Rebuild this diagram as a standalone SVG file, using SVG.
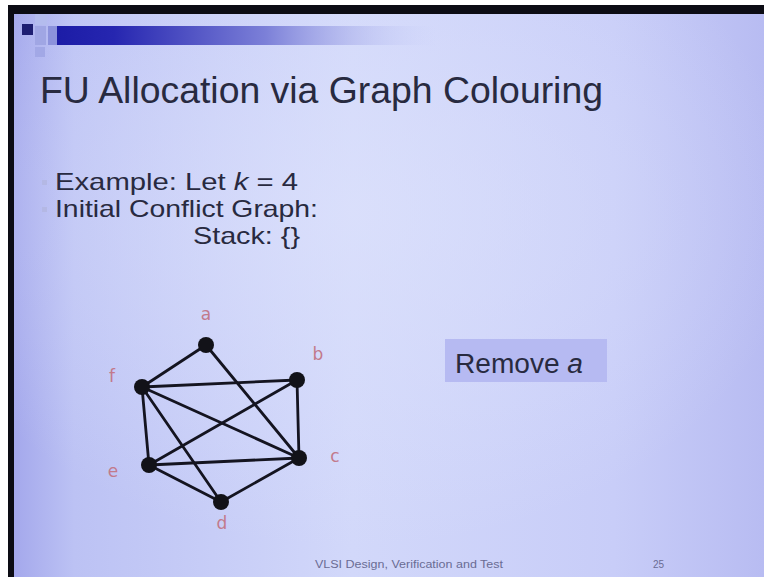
<svg xmlns="http://www.w3.org/2000/svg" width="764" height="577" viewBox="0 0 764 577">
  <defs>
    <linearGradient id="slideBg" x1="0" y1="0" x2="1" y2="0">
      <stop offset="0" stop-color="#a4a8ec"/>
      <stop offset="0.08" stop-color="#bcc2f4"/>
      <stop offset="0.45" stop-color="#d2d8fa"/>
      <stop offset="0.8" stop-color="#c8cdf8"/>
      <stop offset="1" stop-color="#b8bcf2"/>
    </linearGradient>
    <radialGradient id="glow" cx="0.45" cy="0.35" r="0.6">
      <stop offset="0" stop-color="#dde2fc" stop-opacity="0.7"/>
      <stop offset="1" stop-color="#dde2fc" stop-opacity="0"/>
    </radialGradient>
    <linearGradient id="bar" x1="0" y1="0" x2="1" y2="0">
      <stop offset="0" stop-color="#1c1ca6"/>
      <stop offset="0.15" stop-color="#2626b0"/>
      <stop offset="0.55" stop-color="#7c80d8"/>
      <stop offset="1" stop-color="#c8cef8" stop-opacity="0"/>
    </linearGradient>
    <style>
      .txt { font-family: "Liberation Sans", Arial, sans-serif; fill: #282a40; }
      .title { font-size: 36px; }
      .body { font-size: 24px; }
      .callout-text { font-size: 27px; }
      .bullet { fill: #b4b8e4; }
      .edge { stroke: #141420; stroke-width: 2.8; stroke-linecap: round; }
      .vertex { fill: #121218; }
      .lbl { font-family: "DejaVu Sans", "Liberation Sans", sans-serif; font-size: 17px; fill: #c27a8c; text-anchor: middle; }
      .foot { font-family: "Liberation Sans", Arial, sans-serif; font-size: 10px; fill: #6a6c94; }
    </style>
  </defs>

  <!-- screen surround -->
  <rect x="0" y="0" width="764" height="577" fill="#ffffff"/>
  <rect x="8" y="5" width="756" height="572" fill="#0c0c14"/>

  <!-- slide surface -->
  <rect x="14" y="14" width="750" height="563" fill="url(#slideBg)"/>
  <rect x="14" y="14" width="750" height="563" fill="url(#glow)"/>

  <!-- header decoration -->
  <rect x="35" y="14" width="12" height="11" fill="#b4bcee"/>
  <rect x="22" y="24" width="11" height="11" fill="#1e1e72"/>
  <rect x="35" y="26" width="11" height="19" fill="#a0a6e4"/>
  <rect x="35" y="47" width="10" height="10" fill="#a2a8e6"/>
  <rect x="48" y="26" width="10" height="19" fill="#8c92dc"/>
  <rect x="57" y="26" width="380" height="19" fill="url(#bar)"/>

  <!-- title -->
  <text class="txt title" x="40" y="103" textLength="563" lengthAdjust="spacingAndGlyphs">FU Allocation via Graph Colouring</text>

  <!-- bullets -->
  <rect class="bullet" x="42" y="180" width="5" height="5"/>
  <rect class="bullet" x="42" y="207" width="5" height="5"/>
  <text class="txt body" x="55" y="190" textLength="243" lengthAdjust="spacingAndGlyphs">Example: Let <tspan font-style="italic">k</tspan> = 4</text>
  <text class="txt body" x="55" y="217" textLength="263" lengthAdjust="spacingAndGlyphs">Initial Conflict Graph:</text>
  <text class="txt body" x="193" y="244" textLength="107" lengthAdjust="spacingAndGlyphs">Stack: {}</text>

  <!-- connectors -->
  <g id="edges">
    <line class="edge" x1="206" y1="345" x2="142" y2="387"/>
    <line class="edge" x1="206" y1="345" x2="299" y2="458"/>
    <line class="edge" x1="142" y1="387" x2="297" y2="380"/>
    <line class="edge" x1="142" y1="387" x2="149" y2="465"/>
    <line class="edge" x1="142" y1="387" x2="299" y2="458"/>
    <line class="edge" x1="142" y1="387" x2="221" y2="502"/>
    <line class="edge" x1="297" y1="380" x2="149" y2="465"/>
    <line class="edge" x1="297" y1="380" x2="299" y2="458"/>
    <line class="edge" x1="149" y1="465" x2="299" y2="458"/>
    <line class="edge" x1="149" y1="465" x2="221" y2="502"/>
    <line class="edge" x1="221" y1="502" x2="299" y2="458"/>
  </g>

  <!-- vertices -->
  <g id="node-a"><circle class="vertex" cx="206" cy="345" r="8"/><text class="lbl" x="206" y="320">a</text></g>
  <g id="node-b"><circle class="vertex" cx="297" cy="380" r="8"/><text class="lbl" x="318" y="360">b</text></g>
  <g id="node-c"><circle class="vertex" cx="299" cy="458" r="8"/><text class="lbl" x="335" y="462">c</text></g>
  <g id="node-d"><circle class="vertex" cx="221" cy="502" r="8"/><text class="lbl" x="222" y="529">d</text></g>
  <g id="node-e"><circle class="vertex" cx="149" cy="465" r="8"/><text class="lbl" x="113" y="477">e</text></g>
  <g id="node-f"><circle class="vertex" cx="142" cy="387" r="8"/><text class="lbl" x="112" y="382">f</text></g>

  <!-- callout -->
  <g id="callout">
    <rect x="445" y="339" width="162" height="43" fill="#b6baf2"/>
    <text class="txt callout-text" x="455" y="373" textLength="128" lengthAdjust="spacingAndGlyphs" fill="#26285a">Remove <tspan font-style="italic">a</tspan></text>
  </g>

  <!-- footer -->
  <text class="foot" x="315" y="568" textLength="188" lengthAdjust="spacingAndGlyphs">VLSI Design, Verification and Test</text>
  <text class="foot" x="653" y="568">25</text>
</svg>
